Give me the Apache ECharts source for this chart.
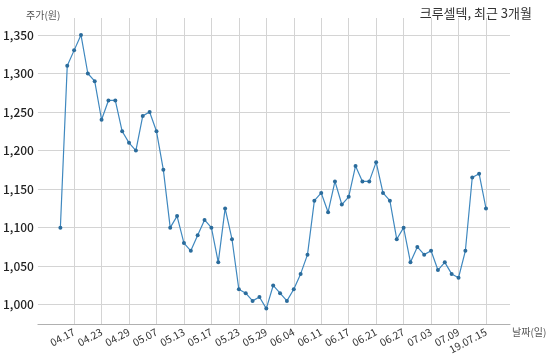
<!DOCTYPE html>
<html><head><meta charset="utf-8">
<script src="https://cdn.jsdelivr.net/npm/echarts@6/dist/echarts.min.js"></script>
<style>html,body{margin:0;padding:0;background:#fff}#c{width:550px;height:360px}</style>
</head><body><div id="c"></div>
<script>
const dates = ['04.15','04.16','04.17','04.18','04.19','04.22','04.23','04.24','04.25','04.26',
 '04.29','04.30','05.02','05.03','05.07','05.08','05.09','05.10','05.13','05.14',
 '05.15','05.16','05.17','05.20','05.21','05.22','05.23','05.24','05.27','05.28',
 '05.29','05.30','05.31','06.03','06.04','06.05','06.07','06.10','06.11','06.12',
 '06.13','06.14','06.17','06.18','06.19','06.20','06.21','06.24','06.25','06.26',
 '06.27','06.28','07.01','07.02','07.03','07.04','07.05','07.08','07.09','07.10',
 '07.11','07.12','19.07.15'];
const prices = [1100,1310,1330,1350,1300,1290,1240,1265,1265,1225,
 1210,1200,1245,1250,1225,1175,1100,1115,1080,1070,
 1090,1110,1100,1055,1125,1085,1020,1015,1005,1010,
 995,1025,1015,1005,1020,1040,1065,1135,1145,1120,
 1160,1130,1140,1180,1160,1160,1185,1145,1135,1085,
 1100,1055,1075,1065,1070,1045,1055,1040,1035,1070,
 1165,1170,1125];
const xTickIdx = [2,6,10,14,18,22,26,30,34,38,42,46,50,54,58,62];
const yTicks = [1000,1050,1100,1150,1200,1250,1300,1350];

const FONT = 'Noto Sans CJK KR';
const chart = echarts.init(document.getElementById('c'));
chart.setOption({
  animation: false,
  textStyle: {fontFamily: FONT},
  title: {text: '크루셀텍, 최근 3개월', right: 13, top: 2,
    textStyle: {fontSize: 13, fontWeight: 'normal', color: '#333', fontFamily: FONT}},
  grid: {left: 37, right: 40, top: 18, bottom: 36},
  xAxis: {
    type: 'value', min: -3.27, max: 65.5,
    name: '날짜(일)', nameLocation: 'end', nameGap: 2,
    nameTextStyle: {fontSize: 10, color: '#555', fontFamily: FONT, verticalAlign: 'top', padding: [3,0,0,0]},
    axisLine: {show: true, lineStyle: {color: '#b0b0b0', width: 1}},
    axisTick: {show: false, customValues: xTickIdx},
    splitLine: {show: true, lineStyle: {color: '#d4d4d4', width: 1}},
    axisLabel: {customValues: xTickIdx, rotate: 28, margin: 7, fontSize: 10.5, color: '#333',
      formatter: v => dates[Math.round(v)]}
  },
  yAxis: {
    type: 'value', min: 975, max: 1372,
    name: '주가(원)', nameLocation: 'end', nameGap: -2,
    nameTextStyle: {fontSize: 10, color: '#555', align: 'right', fontFamily: FONT},
    axisLine: {show: false},
    axisTick: {show: false, customValues: yTicks},
    splitLine: {show: true, lineStyle: {color: '#d4d4d4', width: 1}},
    axisLabel: {customValues: yTicks, margin: 4, fontSize: 12, color: '#222', fontWeight: 500,
      formatter: v => v.toLocaleString('en-US')}
  },
  series: [{
    type: 'line',
    data: prices.map((p, i) => [i, p]),
    symbol: 'circle', symbolSize: 4,
    lineStyle: {color: '#3f88bf', width: 1.2},
    itemStyle: {color: '#2b6c9c'}
  }]
});
</script></body></html>
